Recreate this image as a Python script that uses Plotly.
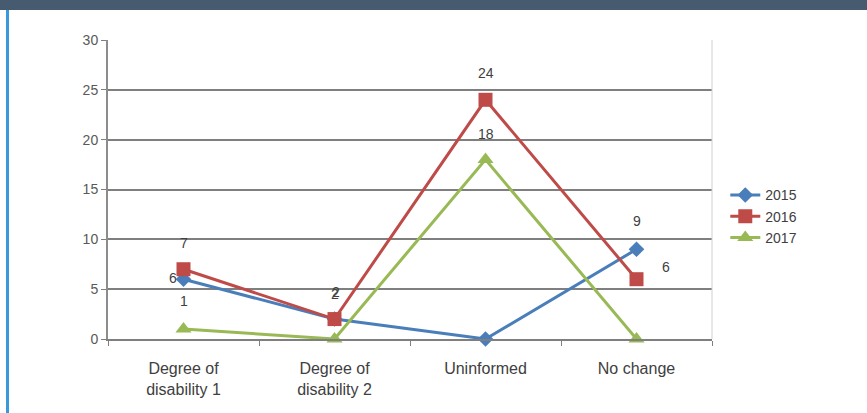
import plotly.graph_objects as go

categories = ["Degree of<br>disability 1", "Degree of<br>disability 2", "Uninformed", "No change"]
series_names = ["2015", "2016", "2017"]
values_2015 = [6, 2, 0, 9]
values_2016 = [7, 2, 24, 6]
values_2017 = [1, 0, 18, 0]
y_ticks = [0, 5, 10, 15, 20, 25, 30]

colors = {"2015": "#4a7ebb", "2016": "#be4b48", "2017": "#98b954"}
symbols = {"2015": "diamond", "2016": "square", "2017": "triangle-up"}
sizes = {"2015": 12, "2016": 14, "2017": 14}
data = {"2015": values_2015, "2016": values_2016, "2017": values_2017}

# label placement per point: (show, xshift, yshift)
label_pos = {
    "2015": [(True, -11, 1), (True, 0, 25), (False, 0, 0), (True, 0, 28)],
    "2016": [(True, 0, 26), (True, 1, 27), (True, 0, 27), (True, 29, 12)],
    "2017": [(True, 0, 28), (False, 0, 0), (True, 0, 26), (False, 0, 0)],
}

FONT = "Liberation Sans, Arial"

fig = go.Figure()
for name in series_names:
    fig.add_trace(go.Scatter(
        x=categories, y=data[name], name=name, mode="lines+markers",
        line=dict(color=colors[name], width=3),
        marker=dict(symbol=symbols[name], size=sizes[name], color=colors[name]),
        cliponaxis=False,
    ))

annotations = []
for name in series_names:
    for c, v, (show, xs, ys) in zip(categories, data[name], label_pos[name]):
        if show:
            annotations.append(dict(x=c, y=v, text=str(v), showarrow=False,
                                    xshift=xs, yshift=ys,
                                    font=dict(family=FONT, size=14, color="#404040")))

fig.update_layout(
    width=867, height=413,
    margin=dict(l=108, r=155, t=40, b=74),
    paper_bgcolor="white", plot_bgcolor="white",
    showlegend=True,
    legend=dict(x=1.022, y=0.41, xanchor="left", yanchor="middle",
                font=dict(family=FONT, size=14, color="#404040"),
                itemwidth=30, tracegroupgap=0, bgcolor="rgba(0,0,0,0)"),
    annotations=annotations,
    xaxis=dict(type="category", showgrid=False, showline=True, linecolor="#7f7f7f", linewidth=2,
               ticks="outside", tickson="boundaries", ticklen=5, tickcolor="#7f7f7f",
               ticklabelstandoff=14,
               tickfont=dict(family=FONT, size=16, color="#404040"),
               range=[-0.5, 3.5], fixedrange=True),
    yaxis=dict(range=[0, 30], tickvals=y_ticks, showgrid=True, gridcolor="#7f7f7f", gridwidth=2,
               showline=True, linecolor="#8c8c8c", linewidth=2, zeroline=False,
               ticks="outside", ticklen=5, tickcolor="#7f7f7f",
               tickfont=dict(family=FONT, size=14, color="#595959")),
    shapes=[
        dict(type="rect", xref="paper", yref="paper", x0=-108/604, x1=(867-108)/604,
             y0=(413-74-10)/299, y1=(413-74)/299 + 0.01 + 30/299, fillcolor="#465a70",
             line=dict(width=0)),
        dict(type="rect", xref="paper", yref="paper", x0=-102/604, x1=-99/604,
             y0=-74/299, y1=(413-74-10)/299, fillcolor="#3a9ad9", line=dict(width=0)),
        dict(type="line", xref="paper", yref="paper", x0=1, x1=1, y0=0, y1=1,
             line=dict(color="#d0d0d0", width=1)),
    ],
)
fig.write_html("out.html")
